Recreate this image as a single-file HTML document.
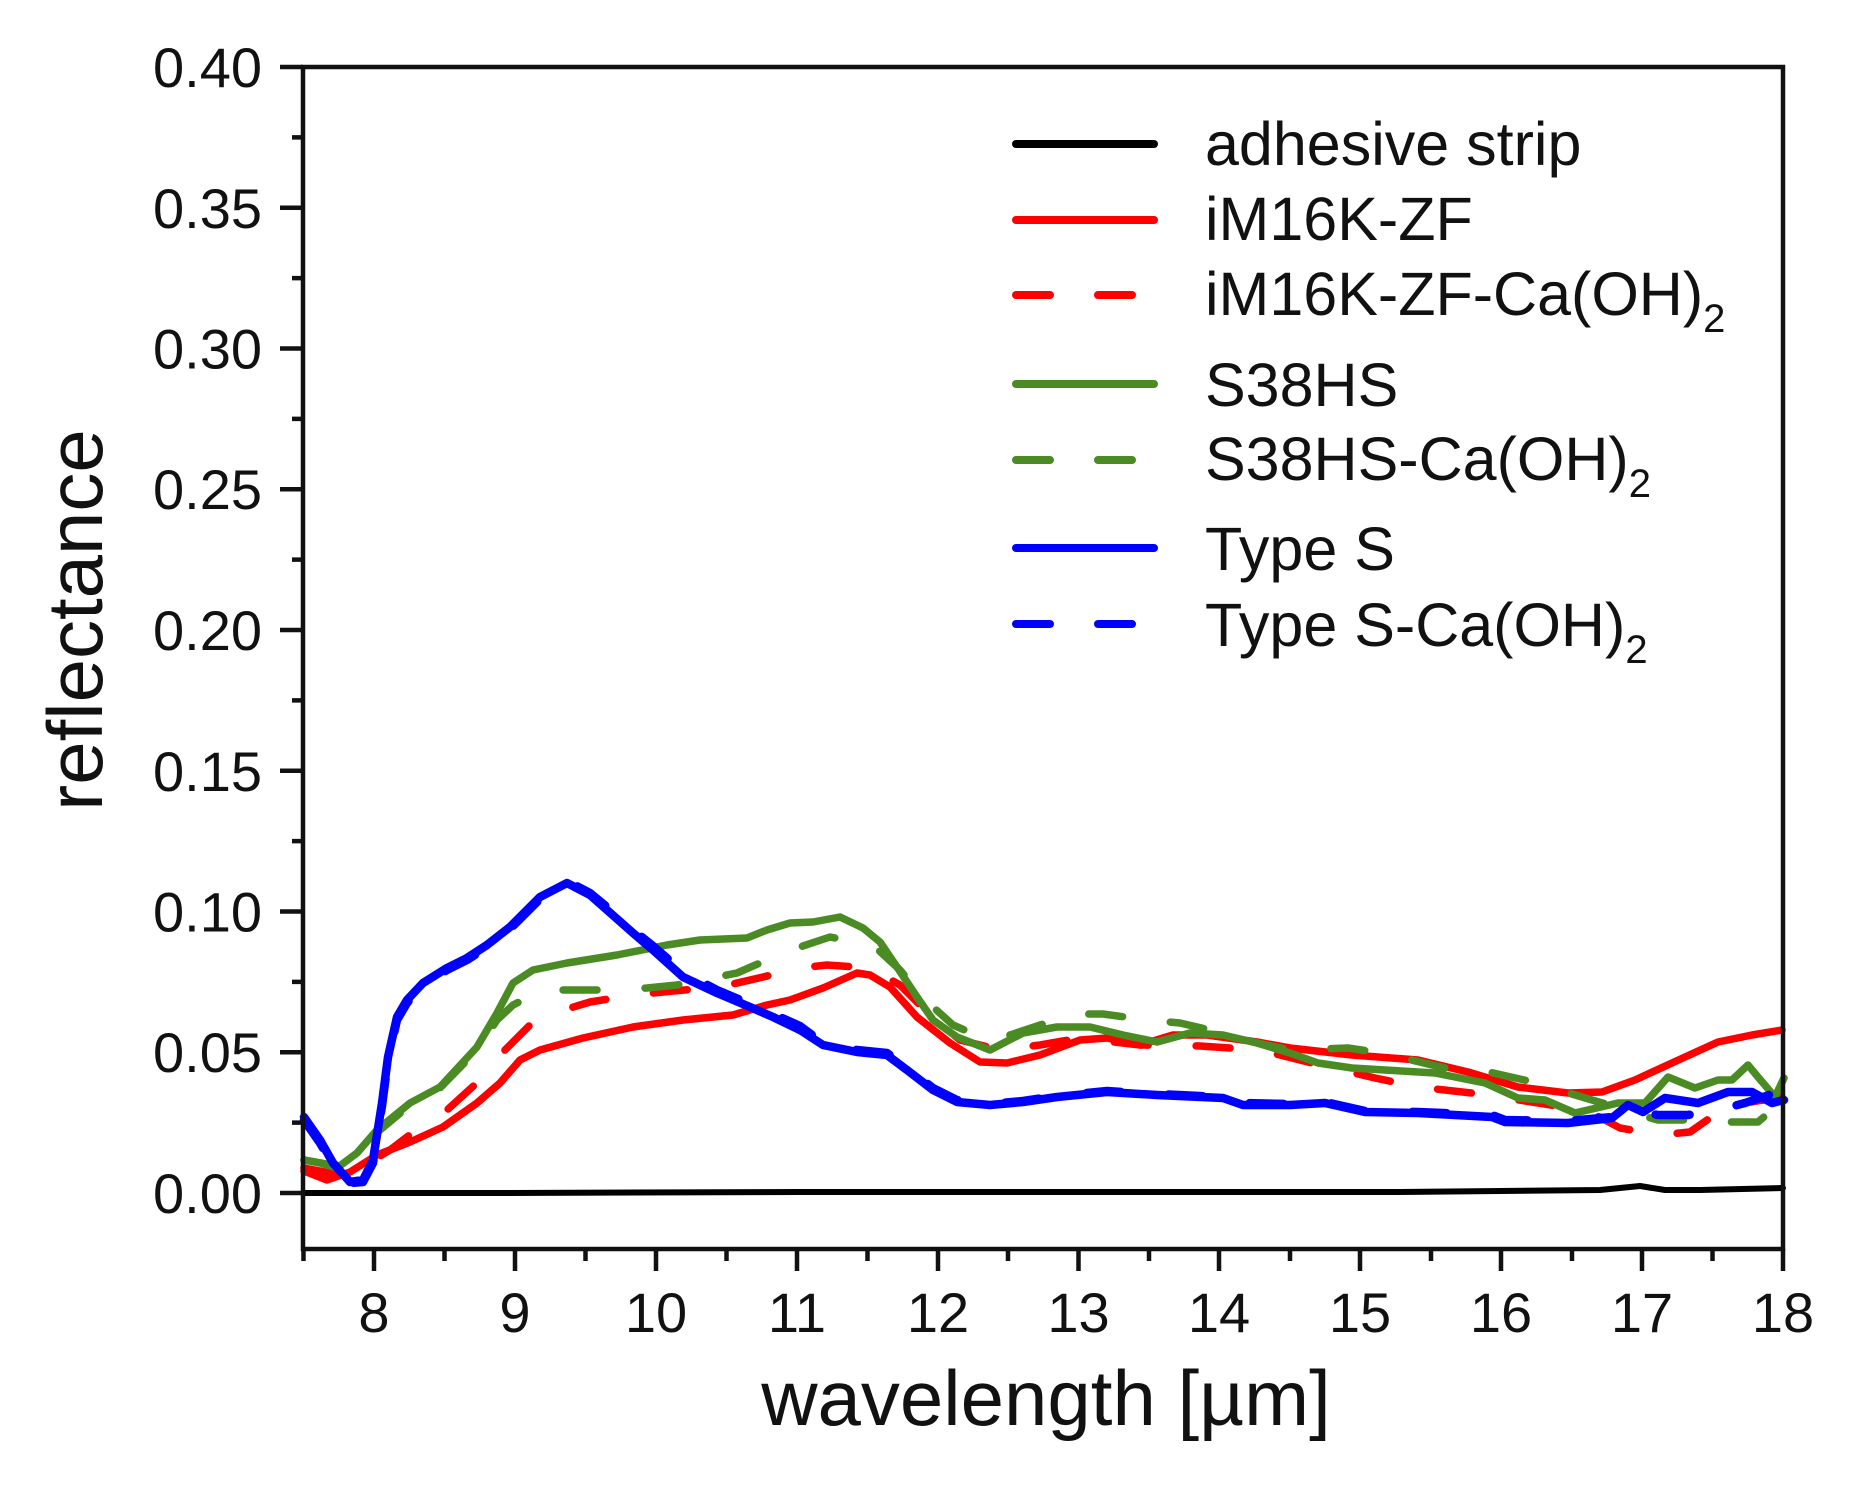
<!DOCTYPE html>
<html>
<head>
<meta charset="utf-8">
<style>
html,body{margin:0;padding:0;background:#fff;}
svg{display:block;}
text{font-family:"Liberation Sans",Arial,sans-serif;fill:#111;}
</style>
</head>
<body>
<svg width="1850" height="1486" viewBox="0 0 1850 1486" xmlns="http://www.w3.org/2000/svg">
<rect width="1850" height="1486" fill="#fff"/>

<!-- series -->
<g fill="none" stroke-linejoin="round" stroke-linecap="round">
  <!-- adhesive strip -->
  <polyline stroke="#000" stroke-width="6" points="304,1193 500,1193 800,1192 1100,1192 1400,1192 1600,1190 1640,1186 1665,1190 1700,1190 1783,1188"/>

  <!-- iM16K-ZF solid -->
  <polyline stroke="#ff0000" stroke-width="7.5" points="304,1171 327,1180 350,1172 377,1155 410,1142 443,1127 477,1103 500,1083 520,1060 540,1050 583,1038 633,1027 683,1020 733,1015 767,1005 790,1000 823,988 857,973 870,975 890,987 917,1017 950,1043 980,1062 1007,1063 1040,1055 1080,1040 1107,1038 1140,1045 1173,1035 1207,1035 1257,1042 1290,1048 1352,1055 1418,1060 1468,1072 1518,1087 1568,1093 1602,1092 1635,1080 1685,1057 1718,1042 1752,1035 1782,1030"/>

  <!-- iM16K-ZF-Ca(OH)2 dashed -->
  <polyline stroke="#ff0000" stroke-width="7.5" stroke-dasharray="34 48" points="304,1168 340,1175 365,1165 390,1150 420,1127 447,1110 480,1080 502,1053 530,1025 557,1012 590,1002 633,995 673,991 720,987 763,977 800,968 827,965 870,968 900,985 930,1015 960,1040 1000,1050 1040,1045 1080,1038 1140,1045 1200,1046 1260,1050 1320,1065 1375,1078 1418,1087 1480,1094 1545,1104 1590,1112 1620,1128 1660,1135 1690,1132 1710,1118 1745,1103 1782,1097"/>

  <!-- S38HS solid -->
  <polyline stroke="#4b8b24" stroke-width="7.5" points="304,1160 320,1163 337,1168 357,1153 377,1130 410,1103 440,1087 477,1047 497,1013 513,983 533,970 567,963 617,955 667,945 700,940 747,938 767,930 790,923 813,922 840,917 863,928 880,942 897,967 917,997 933,1020 957,1037 990,1050 1023,1033 1057,1027 1090,1027 1123,1035 1157,1042 1190,1033 1223,1035 1257,1043 1290,1053 1318,1063 1352,1068 1385,1070 1435,1073 1485,1083 1518,1098 1545,1100 1575,1113 1618,1103 1645,1103 1668,1077 1695,1088 1718,1080 1732,1080 1748,1065 1758,1077 1775,1097 1784,1078"/>

  <!-- S38HS-Ca(OH)2 dashed -->
  <polyline stroke="#4b8b24" stroke-width="7.5" stroke-dasharray="34 48" points="304,1160 337,1166 360,1150 380,1130 410,1105 440,1088 477,1050 497,1020 513,1005 543,990 573,990 610,990 647,988 677,985 717,977 737,973 767,960 800,947 830,937 873,945 900,970 923,998 953,1025 983,1038 1010,1035 1040,1025 1080,1014 1103,1014 1147,1020 1180,1023 1210,1030 1257,1043 1290,1050 1348,1048 1382,1053 1445,1068 1472,1068 1502,1075 1533,1082 1565,1092 1592,1100 1620,1108 1640,1115 1658,1120 1685,1120 1710,1122 1758,1122 1772,1110 1782,1083"/>

  <!-- Type S solid -->
  <polyline stroke="#0000ff" stroke-width="8.5" points="304,1117 320,1140 333,1163 350,1182 363,1180 373,1160 382,1103 388,1057 397,1017 407,1000 423,983 447,968 467,958 487,945 510,927 540,897 567,883 590,895 607,910 633,933 653,950 683,977 717,993 750,1007 773,1017 800,1030 823,1045 857,1052 887,1055 907,1070 933,1090 957,1102 990,1105 1023,1102 1057,1097 1107,1092 1157,1095 1223,1098 1243,1105 1290,1105 1325,1103 1365,1112 1418,1113 1492,1117 1505,1122 1568,1123 1612,1118 1628,1105 1643,1112 1665,1098 1698,1103 1728,1092 1752,1092 1772,1103 1784,1100"/>

  <!-- Type S-Ca(OH)2 dashed -->
  <polyline stroke="#0000ff" stroke-width="8.5" stroke-dasharray="34 48" points="304,1120 320,1143 333,1165 350,1183 363,1182 373,1163 382,1106 388,1060 397,1020 407,1003 423,985 447,970 467,960 487,947 510,929 540,899 567,881 590,893 607,907 633,930 653,946 683,972 717,990 750,1004 773,1014 800,1026 823,1043 857,1050 887,1053 907,1068 933,1088 957,1100 990,1104 1023,1101 1057,1096 1107,1091 1157,1094 1223,1097 1243,1103 1290,1104 1325,1102 1365,1111 1418,1112 1492,1115 1505,1120 1568,1121 1612,1117 1630,1110 1658,1115 1688,1115 1718,1110 1745,1103 1784,1090"/>
</g>

<!-- frame -->
<rect x="303" y="67" width="1480" height="1182" fill="none" stroke="#111" stroke-width="4.5"/>

<!-- ticks -->
<g stroke="#111" stroke-width="4.5" fill="none">
  <path d="M374,1249V1271 M515,1249V1271 M656,1249V1271 M797,1249V1271 M938,1249V1271 M1078.5,1249V1271 M1219,1249V1271 M1360,1249V1271 M1501,1249V1271 M1642,1249V1271 M1783,1249V1271"/>
  <path d="M303.5,1249V1261 M444.5,1249V1261 M585.5,1249V1261 M726.5,1249V1261 M867.5,1249V1261 M1008,1249V1261 M1149,1249V1261 M1290,1249V1261 M1431,1249V1261 M1572,1249V1261 M1712.5,1249V1261"/>
  <path d="M280,1193H303 M280,1052.25H303 M280,911.5H303 M280,770.75H303 M280,630H303 M280,489.25H303 M280,348.5H303 M280,207.75H303 M280,67H303"/>
  <path d="M292,1122.6H303 M292,981.9H303 M292,841.1H303 M292,700.4H303 M292,559.6H303 M292,418.9H303 M292,278.1H303 M292,137.4H303"/>
</g>

<!-- x tick labels -->
<g font-size="56" text-anchor="middle">
  <text x="374" y="1332">8</text>
  <text x="515" y="1332">9</text>
  <text x="656" y="1332">10</text>
  <text x="797" y="1332">11</text>
  <text x="938" y="1332">12</text>
  <text x="1078.5" y="1332">13</text>
  <text x="1219" y="1332">14</text>
  <text x="1360" y="1332">15</text>
  <text x="1501" y="1332">16</text>
  <text x="1642" y="1332">17</text>
  <text x="1783" y="1332">18</text>
</g>

<!-- y tick labels -->
<g font-size="56" text-anchor="end">
  <text x="262" y="1213">0.00</text>
  <text x="262" y="1072">0.05</text>
  <text x="262" y="931.5">0.10</text>
  <text x="262" y="791">0.15</text>
  <text x="262" y="650">0.20</text>
  <text x="262" y="509">0.25</text>
  <text x="262" y="368.5">0.30</text>
  <text x="262" y="228">0.35</text>
  <text x="262" y="87">0.40</text>
</g>

<!-- axis titles -->
<text x="1046" y="1425" font-size="78" text-anchor="middle">wavelength [µm]</text>
<text transform="translate(102,620) rotate(-90)" font-size="78" text-anchor="middle">reflectance</text>

<!-- legend -->
<g fill="none" stroke-linecap="round" stroke-width="8">
  <line x1="1016" y1="144" x2="1154" y2="144" stroke="#000"/>
  <line x1="1016" y1="220" x2="1154" y2="220" stroke="#ff0000"/>
  <line x1="1016" y1="295" x2="1154" y2="295" stroke="#ff0000" stroke-dasharray="34 48"/>
  <line x1="1016" y1="384" x2="1154" y2="384" stroke="#4b8b24"/>
  <line x1="1016" y1="460" x2="1154" y2="460" stroke="#4b8b24" stroke-dasharray="34 48"/>
  <line x1="1016" y1="548" x2="1154" y2="548" stroke="#0000ff"/>
  <line x1="1016" y1="624" x2="1154" y2="624" stroke="#0000ff" stroke-dasharray="34 48"/>
</g>
<g font-size="61">
  <text x="1205" y="165">adhesive strip</text>
  <text x="1205" y="240">iM16K-ZF</text>
  <text x="1205" y="315">iM16K-ZF-Ca(OH)<tspan font-size="40" dy="17">2</tspan></text>
  <text x="1205" y="406">S38HS</text>
  <text x="1205" y="480">S38HS-Ca(OH)<tspan font-size="40" dy="17">2</tspan></text>
  <text x="1205" y="570">Type S</text>
  <text x="1205" y="646">Type S-Ca(OH)<tspan font-size="40" dy="17">2</tspan></text>
</g>
</svg>
</body>
</html>
